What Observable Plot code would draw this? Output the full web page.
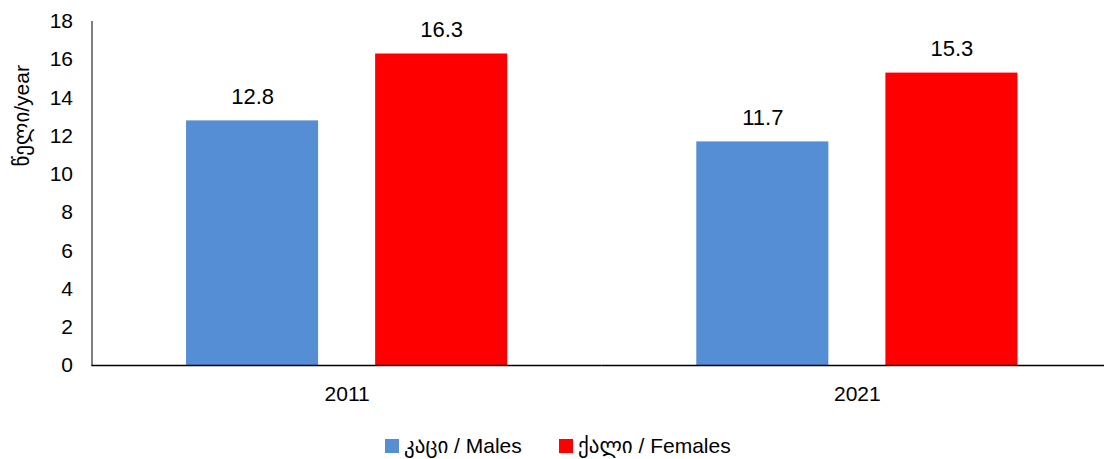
<!DOCTYPE html>
<html>
<head>
<meta charset="utf-8">
<script src="https://cdn.jsdelivr.net/npm/d3@7"></script>
<script src="https://cdn.jsdelivr.net/npm/@observablehq/plot@0.6"></script>
<style>
  html, body { margin: 0; padding: 0; background: #fff; }
  #wrap { width: 1104px; height: 420px; overflow: hidden; position: relative; }
  #wrap svg { max-width: none !important; height: 420px !important; }
  #legend { width: 1104px; height: 39px; position: relative; font-family: "Liberation Sans", "DejaVu Sans", sans-serif; font-size: 21px; color: #000; }
  .item { position: absolute; top: 14px; display: flex; align-items: center; white-space: nowrap; }
  .sw { width: 14px; height: 14px; margin-right: 5px; }
</style>
</head>
<body>
<div id="wrap"></div>
<div id="legend"></div>
<script>
const years = ["2011", "2021"];
const seriesKeys = ["Males", "Females"];
const seriesNames = ["კაცი / Males", "ქალი / Females"];
const seriesColors = ["#558ed5", "#ff0000"];
const males = [12.8, 11.7];
const females = [16.3, 15.3];
const yTicks = [0, 2, 4, 6, 8, 10, 12, 14, 16, 18];
const yLabel = "წელი/year";

const data = [];
years.forEach((yr, i) => {
  data.push({year: yr, sex: "Males", value: males[i]});
  data.push({year: yr, sex: "Females", value: females[i]});
});

const font = "Liberation Sans, Arial, DejaVu Sans, sans-serif";

const chart = Plot.plot({
  width: 1112,
  height: 420,
  marginLeft: 91.5,
  marginRight: 0,
  marginTop: 21,
  marginBottom: 55,
  style: {fontFamily: font, fontSize: "21px", color: "#000", background: "#fff", overflow: "visible"},
  fx: {domain: years, padding: 0, round: false, label: null, tickSize: 0, tickPadding: 21, axis: "bottom"},
  x: {domain: seriesKeys, paddingInner: 0.3016, paddingOuter: 0.5, round: false, axis: null},
  y: {domain: [0, 18], ticks: yTicks, tickSize: 0, tickPadding: 19, label: null, line: true, tickFormat: d => String(d)},
  color: {domain: seriesKeys, range: seriesColors},
  marks: [
    Plot.barY(data, {fx: "year", x: "sex", y: "value", fill: "sex"}),
    Plot.text(data, {fx: "year", x: "sex", y: "value", text: d => d.value.toFixed(1), dy: -24, fontSize: 22, fill: "#000"}),
    Plot.ruleY([0], {stroke: "#000", strokeWidth: 1.5}),
    Plot.text([{year: "2011"}], {fx: "year", text: () => yLabel, frameAnchor: "left", rotate: -90, dx: -69.5, dy: -27, fontSize: 21, fill: "#000"})
  ]
});
document.getElementById("wrap").appendChild(chart);

const legend = document.getElementById("legend");
const lefts = [385, 559];
seriesNames.forEach((name, i) => {
  const it = document.createElement("div");
  it.className = "item";
  it.style.left = lefts[i] + "px";
  const sw = document.createElement("div");
  sw.className = "sw";
  sw.style.background = seriesColors[i];
  const tx = document.createElement("span");
  tx.textContent = name;
  it.appendChild(sw);
  it.appendChild(tx);
  legend.appendChild(it);
});
</script>
</body>
</html>
